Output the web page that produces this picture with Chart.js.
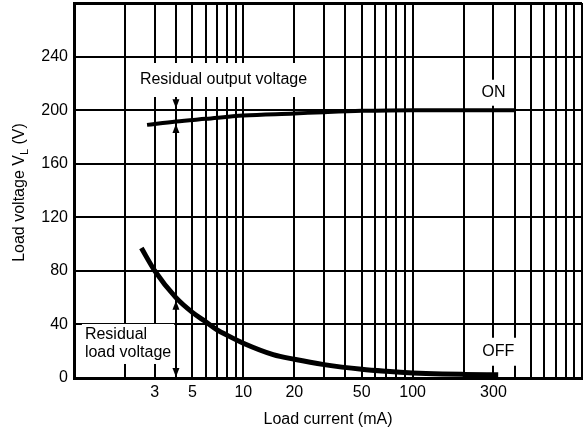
<!DOCTYPE html>
<html>
<head>
<meta charset="utf-8">
<script src="https://cdn.jsdelivr.net/npm/chart.js@4/dist/chart.umd.min.js"></script>
<style>
  html, body { margin: 0; padding: 0; background: #fff; }
  #wrap { width: 583px; height: 433px; }
</style>
</head>
<body>
<div id="wrap"><canvas id="chart" width="583" height="433"></canvas></div>
<script>
// ON / OFF load voltage vs load current
const onCurrent = [2.7, 4, 6, 10, 20, 30, 50, 100, 200, 400]
const onVoltage = [189, 191.5, 193.5, 196, 197.5, 198.5, 199.5, 200, 200, 200]
const offCurrent = [2.5, 3, 4, 5, 6, 7, 8, 10, 15, 20, 30, 50, 70, 100, 150, 200, 320]
const offVoltage = [97, 80, 60, 49, 42, 36, 32, 26, 17.5, 14, 10, 6.5, 5, 3.8, 3, 2.7, 2.4]

const xGrid = [1, 2, 3, 4, 5, 6, 7, 8, 9, 10, 20, 30, 40, 50, 60, 70, 80, 90,
               100, 200, 300, 400, 500, 600, 700, 800, 900, 1000]
const xLabels = [3, 5, 10, 20, 50, 100, 300]
const yTicks = [0, 40, 80, 120, 160, 200, 240, 280]
const yLabels = [0, 40, 80, 120, 160, 200, 240]

const arrowAt = 4
const onAtArrow = 191.5
const offAtArrow = 60

const FONT = '"Liberation Sans", Arial, Helvetica, sans-serif'
Chart.defaults.font.family = FONT
Chart.defaults.color = '#000'

const pts = (xs, ys) => xs.map((v, i) => ({ x: v, y: ys[i] }))
const noPad = s => { s.paddingLeft = 0; s.paddingRight = 0; s.paddingTop = 0; s.paddingBottom = 0 }

// white-backed notes, arrows and the y title (needs a subscript)
const notesPlugin = {
    id: 'notes',
    afterDraw(chart) {
        const { ctx, scales: { x, y }, chartArea } = chart
        ctx.save()
        ctx.font = '16px ' + FONT
        ctx.textBaseline = 'middle'

        const note = (lines, xv, yv, align, padX, padY) => {
            const lh = 18
            const px = x.getPixelForValue(xv), py = y.getPixelForValue(yv)
            const w = Math.max(...lines.map(l => ctx.measureText(l).width))
            const h = lh * lines.length
            const left = align === 'center' ? px - w / 2 : px
            ctx.fillStyle = '#fff'
            ctx.fillRect(left - padX, py - h / 2 - padY, w + 2 * padX, h + 2 * padY)
            ctx.fillStyle = '#000'
            ctx.textAlign = 'left'
            lines.forEach((l, i) => ctx.fillText(l, left, py - h / 2 + lh * (i + 0.5)))
        }
        note(['Residual output voltage'], 2.45, 222.5, 'left', 7, 8)
        note(['ON'], 300, 213, 'center', 8, 4)
        note(['OFF'], 320, 19.6, 'center', 6, 5)
        note(['Residual', 'load voltage'], 1.16, 25.4, 'left', 3, 2)

        // arrowheads on the 4 mA line
        const ax = x.getPixelForValue(arrowAt)
        const arrow = (tipY, dir) => {
            ctx.beginPath()
            ctx.moveTo(ax, tipY)
            ctx.lineTo(ax - 3.5, tipY - dir * 9)
            ctx.lineTo(ax + 3.5, tipY - dir * 9)
            ctx.closePath()
            ctx.fill()
        }
        arrow(y.getPixelForValue(200) - 2, 1)
        arrow(y.getPixelForValue(onAtArrow) + 2.5, -1)
        arrow(y.getPixelForValue(offAtArrow) + 3, -1)
        arrow(y.getPixelForValue(0) - 1, 1)

        // y axis title with subscript L
        const cy = (chartArea.top + chartArea.bottom) / 2 + 2
        ctx.translate(20, cy)
        ctx.rotate(-Math.PI / 2)
        const big = '16px ' + FONT, small = '11px ' + FONT
        ctx.font = big
        const w1 = ctx.measureText('Load voltage V').width
        const w3 = ctx.measureText(' (V)').width
        ctx.font = small
        const w2 = ctx.measureText('L').width
        let tx = -(w1 + w2 + w3) / 2
        ctx.textAlign = 'left'
        ctx.font = big
        ctx.fillText('Load voltage V', tx, 0)
        tx += w1
        ctx.font = small
        ctx.fillText('L', tx, 5)
        tx += w2
        ctx.font = big
        ctx.fillText(' (V)', tx, 0)
        ctx.restore()
    }
}

new Chart(document.getElementById('chart'), {
    type: 'line',
    data: {
        datasets: [
            { label: 'ON', data: pts(onCurrent, onVoltage), borderColor: '#000', borderWidth: 4,
              pointRadius: 0, cubicInterpolationMode: 'monotone', borderCapStyle: 'butt' },
            { label: 'OFF', data: pts(offCurrent, offVoltage), borderColor: '#000', borderWidth: 5,
              pointRadius: 0, cubicInterpolationMode: 'monotone', borderCapStyle: 'butt' }
        ]
    },
    options: {
        responsive: false,
        animation: false,
        layout: { padding: { top: 3, right: 1, left: 0, bottom: 0 } },
        plugins: { legend: { display: false }, tooltip: { enabled: false } },
        scales: {
            x: {
                type: 'logarithmic', min: 1, max: 1000,
                afterBuildTicks: s => { s.ticks = xGrid.map(v => ({ value: v })) },
                afterFit: s => { s.height = 55; noPad(s) },
                ticks: {
                    autoSkip: false, maxRotation: 0, padding: 5, color: '#000', font: { size: 16 },
                    callback: v => xLabels.includes(v) ? String(v) : ''
                },
                grid: { color: '#000', lineWidth: 2, drawTicks: false },
                border: { color: '#000', width: 3 },
                title: { display: true, text: 'Load current (mA)', color: '#000', font: { size: 16 },
                         padding: { top: 0, bottom: 4 } }
            },
            y: {
                min: 0, max: 280,
                afterBuildTicks: s => { s.ticks = yTicks.map(v => ({ value: v })) },
                afterFit: s => { s.width = 74; noPad(s) },
                ticks: {
                    padding: 6, color: '#000', font: { size: 16 },
                    callback: v => yLabels.includes(v) ? String(v) : ''
                },
                grid: { color: '#000', lineWidth: c => (c.tick && c.tick.value === 280) ? 3 : 2, drawTicks: false },
                border: { color: '#000', width: 3 }
            }
        }
    },
    plugins: [notesPlugin]
})
</script>
</body>
</html>
